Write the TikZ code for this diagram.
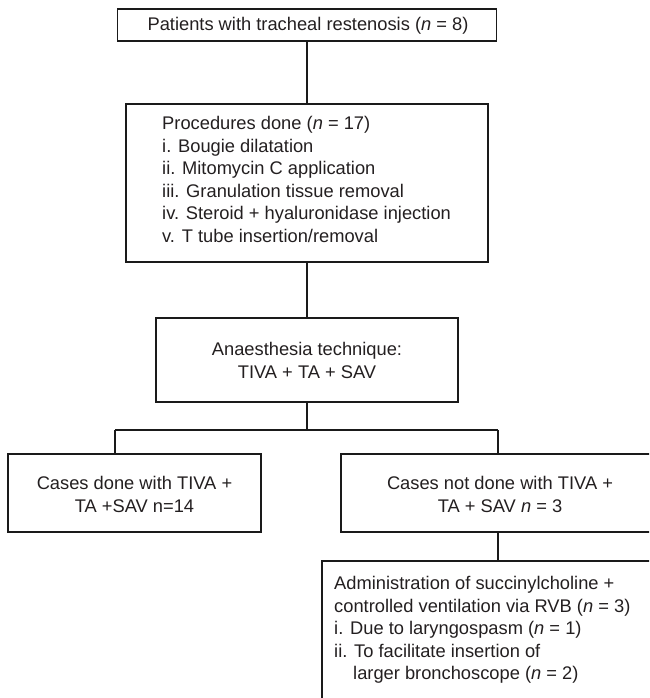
\documentclass[tikz,border=0pt]{standalone}
\usepackage{fontspec}
\setmainfont{Liberation Sans}
\definecolor{linecol}{HTML}{1A1A1A}
\definecolor{textcol}{HTML}{231F20}
\begin{document}
\begin{tikzpicture}[x=1pt,y=-1pt,
  boxnode/.style={draw=linecol, line width=1.1pt, inner sep=0pt, rectangle},
  txt/.style={inner sep=0pt, text=textcol, font=\fontsize{18.3}{22.6}\selectfont},
  conn/.style={draw=linecol, line width=1.1pt}]
\useasboundingbox (0,0) rectangle (649,698);
\clip (0,0) rectangle (649,698);
% boxes
\node[boxnode, minimum width=379pt, minimum height=32pt] (b1) at (307,25) {};
\node[boxnode, minimum width=362pt, minimum height=158pt] (b2) at (307,183) {};
\node[boxnode, minimum width=302pt, minimum height=84pt] (b3) at (307,360) {};
\node[boxnode, minimum width=253pt, minimum height=78pt] (b4) at (134.5,493) {};
\node[boxnode, minimum width=318pt, minimum height=78pt] (b5) at (500,493) {};
\node[boxnode, minimum width=368pt, minimum height=179pt] (b6) at (506,650.5) {};
% texts
\node[txt, anchor=base] (t1) at (308,31) {Patients with tracheal restenosis (\textit{n} = 8)};
\node[txt, anchor=base west] (t2) at (162,129.5) {\parbox[t]{320pt}{\raggedright
  Procedures done (\textit{n} = 17)\\
  i. Bougie dilatation\\
  ii. Mitomycin C application\\
  iii. Granulation tissue removal\\
  iv. Steroid + hyaluronidase injection\\
  v. T tube insertion/removal}};
\node[txt, anchor=base] (t3) at (307,355.5) {\parbox[t]{280pt}{\centering
  Anaesthesia technique:\\ TIVA + TA + SAV}};
\node[txt, anchor=base] (t4) at (134.5,489.5) {\parbox[t]{240pt}{\centering
  Cases done with TIVA +\\ TA +SAV n=14}};
\node[txt, anchor=base] (t5) at (500,489.5) {\parbox[t]{280pt}{\centering
  Cases not done with TIVA +\\ TA + SAV \textit{n} = 3}};
\node[txt, anchor=base west] (t6) at (334,589.5) {\parbox[t]{330pt}{\raggedright
  Administration of succinylcholine +\\
  controlled ventilation via RVB (\textit{n} = 3)\\
  i. Due to laryngospasm (\textit{n} = 1)\\
  ii. To facilitate insertion of\\
  \hspace*{19pt}larger bronchoscope (\textit{n} = 2)}};
% junctions
\coordinate (jc) at (307,430);
\coordinate (jl) at (115,430);
\coordinate (jr) at (498,430);
% connectors
\draw[conn] (b1.south) -- (b2.north);
\draw[conn] (b2.south) -- (b3.north);
\draw[conn] (b3.south) -- (jc);
\draw[conn] (jl) -- (jr);
\draw[conn] (jl) -- (jl |- b4.north);
\draw[conn] (jr) -- (jr |- b5.north);
\draw[conn] (jr |- b5.south) -- (jr |- b6.north);
\end{tikzpicture}
\end{document}
